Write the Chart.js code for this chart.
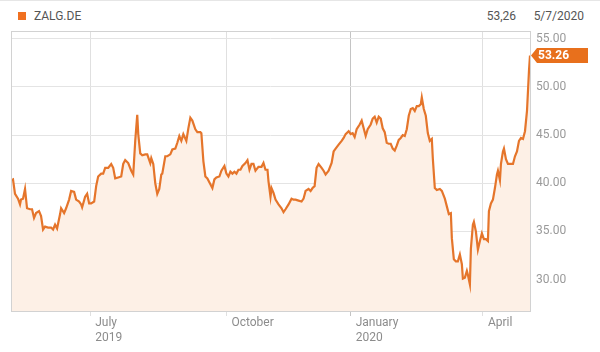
<!DOCTYPE html>
<html lang="en">
<head>
<meta charset="UTF-8">
<title>ZALG.DE</title>
<script src="https://cdn.jsdelivr.net/npm/chart.js@4"></script>
<style>
  html, body { margin: 0; padding: 0; background: #fff; }
  body { width: 600px; height: 352px; position: relative; overflow: hidden; font-family: Roboto, "Liberation Sans", sans-serif; }
  .topline { position: absolute; left: 0; top: 0; width: 600px; height: 1px; background: #e6e6e6; }
  .swatch { position: absolute; left: 18px; top: 12px; width: 8px; height: 8px; background: #f07020; }
  .head { position: absolute; top: 8px; font-size: 12px; line-height: 16px; color: #555; }
  #wrap { position: absolute; left: 0; top: 0; width: 600px; height: 352px; }
</style>
</head>
<body>
<div class="topline"></div>
<div class="swatch"></div>
<div class="head" id="sym" style="left:34px"></div>
<div class="head" id="lastVal" style="right:84px"></div>
<div class="head" id="lastDate" style="right:16px"></div>
<div id="wrap"><canvas id="chart" width="600" height="352"></canvas></div>

<script>
// trading sessions since start of the window, and closing prices (EUR)
const session = [
  0, 1, 2, 3.5, 4.5, 5, 6, 7, 8, 9.5, 10.5, 11.5, 12.5, 14, 15, 16, 17, 18.5, 20, 21, 22, 23,
  24.5, 25, 26.5, 27.5, 29, 30, 31.5, 32.5, 34, 35, 35.5, 37, 38, 39, 40, 41.5, 42.5, 43.5,
  45, 46, 47, 48.5, 50, 51, 52,
  53.5, 55, 56, 57, 58.5, 60, 61, 62, 63, 63.5, 64.5, 65.5, 67, 68, 69.5, 70, 71, 72, 73, 74,
  75, 75.5, 77, 78, 79.5, 80.5, 82, 83, 84, 85, 86, 87.5, 88.5, 89.5, 90.5, 92, 93, 94.5, 95,
  96, 97, 98, 99.5, 100.5, 101.5, 102.5, 104, 105, 106.5, 107.5,
  108.5, 109.5, 110.5, 111.5, 112.5, 113.5, 114.5, 115.5, 117, 118, 119, 120, 121, 122, 123.5,
  125, 126, 127, 128, 128.5, 129.5, 130, 131, 132, 133.5, 135, 136, 137, 138.5, 140, 141, 142,
  143.5, 145, 146, 147, 148.5, 149.5, 150.5, 151.5, 152.5, 153.5, 155, 156, 157, 158.5, 160,
  161, 162,
  163.5, 165, 166, 167, 168.5, 169.5, 170.5, 171.5, 172.5, 174, 175, 176, 177, 178, 179.5,
  180.5, 181.5, 182.5, 183.5, 184.5, 185.5, 186.5, 187.5, 188.5, 189.5, 190.5, 191.5, 192.5,
  193.5, 194.5, 195.5, 196.5, 197.5, 198.5, 199.5, 200.5, 201.5, 202.5, 203.5, 204.5, 205,
  206, 207, 208, 209, 210, 210.5, 211.5, 212.5, 214, 215, 216.5, 217.5, 218.5,
  219.5, 220, 221, 222, 223, 224, 225, 225.5, 226.5, 227.5, 228, 229, 229.5, 230.5, 231, 232,
  233, 234, 235, 236, 237, 238, 238.5, 239.5, 240.5, 241.5, 242.5, 243, 244, 244.5, 245.5,
  246, 247, 248, 249.5, 250.5, 251.5, 252.5, 253.5, 254.5, 255.5, 256.5, 257.5, 258.5, 259
];
const close = [
  40.3, 40.4, 38.9, 38.4, 37.8, 38.3, 38.4, 39.4, 37.4, 37.3, 37.3, 36.4, 36.9, 37.1, 36.6,
  35.2, 35.5, 35.4, 35.4, 35.2, 35.7, 35.3, 36.8, 37.4, 36.9, 37.4, 38.3, 39.2, 39.1, 38.3,
  38.1, 37.8, 37.5, 38.6, 38.9, 37.9, 37.9, 38.1, 39.7, 40.7, 41.0, 41.0, 41.6, 41.6, 42.0,
  41.6, 40.5,
  40.6, 40.7, 42.0, 42.4, 42.1, 41.3, 40.9, 44.4, 47.1, 45.1, 43.1, 42.9, 43.0, 43.0, 42.1,
  42.6, 42.0, 40.0, 38.9, 39.4, 40.9, 41.0, 42.8, 42.8, 43.0, 43.5, 43.6, 44.2, 44.9, 44.4,
  45.1, 44.4, 45.7, 46.8, 46.5, 45.6, 45.3, 45.3, 45.2, 42.3, 40.7, 40.5, 39.9, 39.5, 40.4,
  40.6, 40.7, 41.3, 41.8, 41.0,
  40.7, 41.2, 41.0, 41.2, 41.0, 41.4, 41.4, 41.8, 42.1, 42.4, 41.4, 42.0, 42.0, 41.3, 41.7,
  41.7, 42.1, 41.4, 41.4, 40.2, 38.6, 39.5, 39.0, 38.3, 37.8, 37.4, 37.0, 37.3, 37.8, 38.4,
  38.3, 38.3, 38.2, 38.1, 38.4, 39.2, 39.4, 39.2, 39.5, 39.7, 41.6, 42.0, 41.6, 41.3, 40.9,
  41.3, 42.1, 43.3, 43.6,
  44.0, 44.4, 44.7, 45.1, 45.4, 45.1, 45.2, 44.8, 45.6, 46.1, 46.5, 45.7, 44.9, 45.6, 46.1,
  46.7, 46.9, 46.3, 46.9, 46.7, 45.7, 45.3, 44.2, 44.1, 44.1, 43.6, 43.4, 43.9, 44.5, 44.7,
  45.0, 44.9, 45.6, 47.0, 47.7, 47.8, 47.5, 48.0, 48.0, 48.2, 48.9, 47.7, 47.0, 45.2, 44.4,
  44.6, 42.6, 39.5, 39.3, 39.4, 39.2, 38.4, 37.6, 36.8,
  36.9, 34.3, 32.1, 31.9, 31.9, 32.6, 31.6, 30.1, 30.2, 30.9, 30.5, 29.5, 33.2, 35.7, 36.0,
  35.0, 33.1, 34.0, 34.8, 34.2, 34.2, 34.0, 37.1, 37.9, 38.3, 39.5, 40.9, 41.3, 40.3, 42.0,
  43.3, 43.6, 42.5, 42.0, 42.0, 42.0, 42.8, 43.3, 44.4, 44.7, 44.6, 45.4, 47.5, 51.7, 53.26
];
const tickSession = [39.5, 107.5, 169.5, 235.5];
const tickLabel = [['July', '2019'], ['October'], ['January', '2020'], ['April']];
const yTicks = [30, 35, 40, 45, 50, 55];
const symbol = 'ZALG.DE';
const lastDate = '5/7/2020';

const lineColor = '#e5752b';
const fillColor = '#fdf0e6';
const lastPrice = close[close.length - 1];

document.getElementById('sym').textContent = symbol;
document.getElementById('lastVal').textContent = lastPrice.toFixed(2).replace('.', ',');
document.getElementById('lastDate').textContent = lastDate;

// plot frame + last price tag on the right
const framePlugin = {
  id: 'frame',
  afterDraw(chart) {
    const { ctx, chartArea: a, scales } = chart;
    ctx.save();
    ctx.strokeStyle = '#d2d2d2';
    ctx.lineWidth = 1;
    ctx.strokeRect(a.left + 0.5, a.top + 0.5, a.right - a.left, a.bottom - a.top);

    const y = scales.y.getPixelForValue(lastPrice);
    const x0 = a.right + 1;
    ctx.fillStyle = '#e8701c';
    ctx.beginPath();
    ctx.moveTo(x0, y);
    ctx.lineTo(x0 + 6, y - 7.5);
    ctx.lineTo(588, y - 7.5);
    ctx.lineTo(588, y + 7.5);
    ctx.lineTo(x0 + 6, y + 7.5);
    ctx.closePath();
    ctx.fill();
    ctx.fillStyle = '#fff';
    ctx.font = 'bold 12px Roboto';
    ctx.textBaseline = 'middle';
    ctx.textAlign = 'left';
    ctx.fillText(lastPrice.toFixed(2), x0 + 7, y + 0.5);
    ctx.restore();
  }
};

new Chart(document.getElementById('chart'), {
  type: 'line',
  data: {
    datasets: [{
      data: session.map((s, i) => ({ x: s, y: close[i] })),
      borderColor: lineColor,
      borderWidth: 2.2,
      backgroundColor: fillColor,
      fill: 'start',
      pointRadius: 0,
      tension: 0
    }]
  },
  options: {
    responsive: false,
    animation: false,
    layout: { padding: { top: 31, left: 11, right: 0, bottom: 0 } },
    plugins: { legend: { display: false }, tooltip: { enabled: false } },
    scales: {
      x: {
        type: 'linear',
        min: 0,
        max: 259,
        afterBuildTicks: s => { s.ticks = tickSession.map(v => ({ value: v })); },
        afterFit: s => { s.height = 41; },
        ticks: {
          autoSkip: false,
          maxRotation: 0,
          align: 'start',
          labelOffset: 5,
          padding: -1,
          color: '#8c8c8c',
          font: { family: 'Roboto', size: 12, lineHeight: 1.3 },
          callback: (v, i) => tickLabel[i]
        },
        grid: {
          color: c => (c.tick && c.tick.value === 169.5) ? '#c4c4c4' : '#e0e0e0',
          drawTicks: true,
          tickLength: 5
        },
        border: { display: false }
      },
      y: {
        type: 'linear',
        position: 'right',
        min: 26.74,
        max: 55.8,
        afterBuildTicks: s => { s.ticks = yTicks.map(v => ({ value: v })); },
        afterFit: s => { s.width = 70; },
        ticks: {
          padding: 6,
          color: '#9a9a9a',
          font: { family: 'Roboto', size: 12 },
          callback: v => v.toFixed(2)
        },
        grid: { color: '#e4e4e4', drawTicks: false },
        border: { display: false }
      }
    }
  },
  plugins: [framePlugin]
});
</script>
</body>
</html>
